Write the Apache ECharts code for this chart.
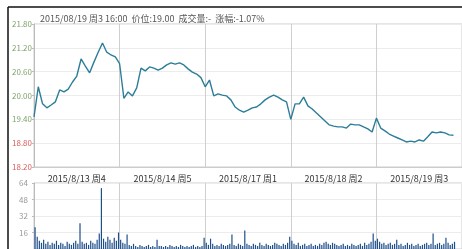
<!DOCTYPE html>
<html>
<head>
<meta charset="utf-8">
<script src="https://cdn.jsdelivr.net/npm/echarts@6/dist/echarts.min.js"></script>
<style>
html, body { margin: 0; padding: 0; background: #fff; }
#chart { width: 462px; height: 249px; }
</style>
</head>
<body>
<div id="chart"></div>
<script>
// 每天的点数(分时，约10分钟一个点)
var P = 20;
var VP = 40; // 成交量每天的柱数

var dayLabels = ['2015/8/13 周4', '2015/8/14 周5', '2015/8/17 周1', '2015/8/18 周2', '2015/8/19 周3'];

var header = '2015/08/19 周3 16:00  价位:19.00  成交量:-  涨幅:-1.07%';

// 价格(五日分时)
var price = [
	19.46, 20.22, 19.79, 19.69, 19.76, 19.84, 20.14, 20.09, 20.16, 20.34, 20.49, 20.92, 20.74, 20.57, 20.84, 21.09, 21.32, 21.09, 21.02, 20.97, 20.80,
	19.93, 20.09, 19.99, 20.19, 20.69, 20.62, 20.72, 20.69, 20.64, 20.69, 20.77, 20.82, 20.79, 20.82, 20.77, 20.67, 20.59, 20.54, 20.45, 20.22,
	20.39, 19.99, 20.04, 20.01, 19.99, 19.89, 19.71, 19.63, 19.58, 19.63, 19.69, 19.71, 19.79, 19.89, 19.96, 20.01, 19.96, 19.89, 19.84, 19.40,
	19.79, 19.79, 19.96, 19.74, 19.66, 19.56, 19.46, 19.36, 19.26, 19.23, 19.21, 19.21, 19.18, 19.28, 19.26, 19.26, 19.21, 19.16, 19.08, 19.43,
	19.18, 19.11, 19.03, 18.98, 18.93, 18.88, 18.83, 18.85, 18.83, 18.88, 18.85, 18.96, 19.08, 19.06, 19.08, 19.06, 19.01, 19.00
];

// 成交量
var volume = [
	21, 12, 8, 6, 9, 5, 7, 4, 6, 5, 8, 4, 6, 5, 3, 7, 5, 4, 6, 8, 5, 25, 7, 5, 6, 4, 8, 6, 5, 9, 15, 59, 10, 7, 12, 9, 6, 11, 8, 16,
	9, 6, 5, 14, 4, 3, 5, 3, 2, 4, 3, 2, 3, 4, 2, 3, 2, 9, 3, 3, 2, 3, 2, 4, 3, 2, 3, 2, 4, 3, 2, 3, 2, 3, 4, 2, 3, 2, 3, 11,
	6, 4, 10, 5, 3, 4, 3, 5, 4, 3, 4, 5, 14, 4, 3, 5, 4, 3, 18, 5, 4, 3, 5, 4, 3, 6, 4, 3, 5, 4, 3, 4, 6, 5, 4, 3, 5, 4, 6, 12,
	8, 5, 4, 6, 3, 4, 5, 3, 4, 5, 3, 4, 3, 5, 4, 6, 7, 5, 4, 6, 5, 4, 3, 4, 5, 3, 4, 3, 5, 4, 3, 4, 5, 3, 6, 4, 5, 7, 15, 8,
	10, 7, 5, 6, 4, 5, 6, 4, 5, 9, 4, 5, 3, 4, 6, 4, 5, 3, 4, 5, 3, 4, 5, 6, 4, 5, 15, 4, 5, 6, 4, 5, 11, 6, 4, 5, 7, null, null, null
];

var BASE = 18.2; // 价格轴底部
var STEP = 0.6;

var priceCats = [];
for (var i = 0; i <= P * 5; i++) priceCats.push(i);
var volCats = [];
for (var j = 0; j < VP * 5; j++) volCats.push(j);

var myChart = echarts.init(document.getElementById('chart'));

var font = 'Noto Sans CJK SC';

var option = {
	animation: false,
	backgroundColor: '#fff',
	title: {
		text: header,
		left: 35,
		top: 9,
		textStyle: { fontSize: 9, color: '#555', fontWeight: 'normal', fontFamily: font }
	},
	graphic: [
		{ type: 'line', shape: { x1: 8, y1: 7, x2: 462, y2: 7 }, style: { stroke: '#111', lineWidth: 1.5 } },
		{ type: 'line', shape: { x1: 8, y1: 7, x2: 8, y2: 249 }, style: { stroke: '#111', lineWidth: 1.5 } }
	],
	grid: [
		{ left: 34, top: 24, right: -7, height: 143, show: true, borderColor: '#ccc', borderWidth: 1 },
		{ left: 34, top: 183, right: -7, height: 66, show: true, borderColor: '#ccc', borderWidth: 1 }
	],
	xAxis: [{
		type: 'category',
		gridIndex: 0,
		data: priceCats,
		boundaryGap: false,
		axisLine: { lineStyle: { color: '#ccc' } },
		axisTick: { show: false },
		axisLabel: {
			interval: function(idx) { return idx % P === P / 2; },
			formatter: function(v, idx) { return dayLabels[Math.floor(idx / P)]; },
			margin: 7,
			fontSize: 9,
			color: '#333',
			fontFamily: font
		},
		splitLine: {
			show: true,
			interval: function(idx) { return idx % P === 0; },
			lineStyle: { color: '#cfcfcf' }
		}
	}, {
		type: 'category',
		gridIndex: 1,
		data: volCats,
		boundaryGap: true,
		axisLine: { show: false },
		axisTick: { show: false },
		axisLabel: { show: false },
		splitLine: {
			show: true,
			interval: function(idx) { return idx % VP === 0; },
			lineStyle: { color: '#cfcfcf' }
		}
	}],
	yAxis: [{
		type: 'value',
		gridIndex: 0,
		min: 0,
		max: 3.6,
		interval: STEP,
		axisLine: { show: true, lineStyle: { color: '#bbb' } },
		axisTick: { show: true, length: 2, lineStyle: { color: '#bbb' } },
		axisLabel: {
			margin: 2,
			fontSize: 8,
			fontFamily: font,
			formatter: function(v) { return (v + BASE).toFixed(2); },
			color: function(v) { return (Number(v) + BASE) < 19.1 ? '#d9605f' : '#7fa36a'; }
		},
		splitLine: { lineStyle: { color: '#ececec' } }
	}, {
		type: 'value',
		gridIndex: 1,
		min: 0,
		max: 64,
		interval: 16,
		axisLine: { show: true, lineStyle: { color: '#bbb' } },
		axisTick: { show: true, length: 2, lineStyle: { color: '#bbb' } },
		axisLabel: { margin: 6, fontSize: 8, color: '#999', fontFamily: font, showMinLabel: false },
		splitLine: { lineStyle: { color: '#ececec' } }
	}],
	series: [{
		type: 'line',
		xAxisIndex: 0,
		yAxisIndex: 0,
		data: price.map(function(v) { return +(v - BASE).toFixed(2); }),
		symbol: 'none',
		lineStyle: { color: '#2c7d98', width: 1.4 }
	}, {
		type: 'bar',
		xAxisIndex: 1,
		yAxisIndex: 1,
		data: volume,
		barWidth: 1.2,
		itemStyle: { color: '#1f4f8a' }
	}]
};

myChart.setOption(option);
window.addEventListener('resize', function() {
	myChart.resize();
});
</script>
</body>
</html>
